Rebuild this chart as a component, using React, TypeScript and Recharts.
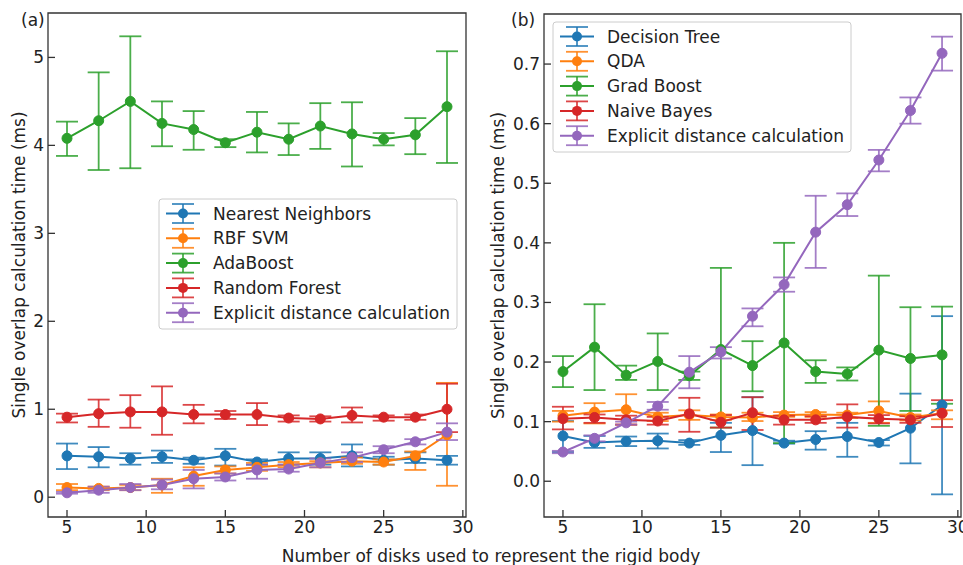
import { LineChart, Line, XAxis, YAxis, ErrorBar, ReferenceArea, Label } from 'recharts';

const FONT = '"DejaVu Sans", sans-serif';
const INK = '#222';
const AXIS = '#333';

const XS = [5, 7, 9, 11, 13, 15, 17, 19, 21, 23, 25, 27, 29];
const X_DOMAIN: [number, number] = [3.8, 30.2];
const X_TICKS = [5, 10, 15, 20, 25, 30];
const Y_TICKS_A = [0, 1, 2, 3, 4, 5];
const Y_TICKS_B = [0, 0.1, 0.2, 0.3, 0.4, 0.5, 0.6, 0.7];
const Y_LABEL = 'Single overlap calculation time (ms)';
const X_LABEL = 'Number of disks used to represent the rigid body';

// panel (a)
const NN_MEAN = [0.47, 0.46, 0.44, 0.46, 0.42, 0.47, 0.40, 0.44, 0.44, 0.47, 0.42, 0.44, 0.42];
const NN_LO = [0.32, 0.34, 0.37, 0.39, 0.38, 0.36, 0.37, 0.37, 0.37, 0.35, 0.37, 0.39, 0.37];
const NN_HI = [0.61, 0.57, 0.50, 0.53, 0.45, 0.55, 0.43, 0.51, 0.51, 0.60, 0.46, 0.51, 0.47];

const RBF_MEAN = [0.11, 0.10, 0.11, 0.14, 0.24, 0.31, 0.34, 0.37, 0.39, 0.41, 0.40, 0.47, 0.71];
const RBF_LO = [0.08, 0.08, 0.08, 0.05, 0.13, 0.27, 0.30, 0.34, 0.34, 0.38, 0.37, 0.31, 0.13];
const RBF_HI = [0.15, 0.12, 0.14, 0.21, 0.34, 0.35, 0.39, 0.40, 0.41, 0.45, 0.43, 0.52, 1.30];

const ADA_MEAN = [4.08, 4.28, 4.50, 4.25, 4.18, 4.03, 4.15, 4.07, 4.22, 4.13, 4.07, 4.12, 4.44];
const ADA_LO = [3.88, 3.72, 3.74, 3.99, 3.95, 3.98, 3.92, 3.89, 3.96, 3.76, 4.00, 3.90, 3.80];
const ADA_HI = [4.27, 4.83, 5.24, 4.50, 4.39, 4.07, 4.38, 4.25, 4.48, 4.49, 4.14, 4.31, 5.07];

const RF_MEAN = [0.91, 0.95, 0.97, 0.97, 0.94, 0.94, 0.94, 0.90, 0.89, 0.93, 0.91, 0.91, 1.00];
const RF_LO = [0.85, 0.80, 0.79, 0.71, 0.84, 0.89, 0.82, 0.86, 0.86, 0.85, 0.87, 0.88, 0.74];
const RF_HI = [0.95, 1.11, 1.16, 1.26, 1.05, 0.98, 1.07, 0.93, 0.92, 1.02, 0.93, 0.94, 1.29];

const EXA_MEAN = [0.05, 0.08, 0.11, 0.14, 0.21, 0.23, 0.31, 0.32, 0.39, 0.45, 0.54, 0.63, 0.74];
const EXA_LO = [0.04, 0.05, 0.08, 0.09, 0.10, 0.19, 0.21, 0.29, 0.34, 0.40, 0.50, 0.60, 0.65];
const EXA_HI = [0.06, 0.12, 0.15, 0.20, 0.31, 0.27, 0.37, 0.37, 0.44, 0.51, 0.58, 0.66, 0.84];

// panel (b)
const DT_MEAN = [0.076, 0.065, 0.067, 0.068, 0.064, 0.077, 0.085, 0.064, 0.070, 0.075, 0.065, 0.089, 0.128];
const DT_LO = [0.049, 0.056, 0.059, 0.055, 0.061, 0.049, 0.027, 0.063, 0.053, 0.041, 0.060, 0.030, -0.022];
const DT_HI = [0.101, 0.076, 0.075, 0.080, 0.069, 0.098, 0.141, 0.068, 0.084, 0.098, 0.069, 0.147, 0.277];

const QDA_MEAN = [0.110, 0.116, 0.120, 0.108, 0.111, 0.108, 0.107, 0.111, 0.112, 0.111, 0.118, 0.107, 0.114];
const QDA_LO = [0.100, 0.097, 0.095, 0.101, 0.103, 0.103, 0.101, 0.108, 0.108, 0.106, 0.098, 0.102, 0.104];
const QDA_HI = [0.118, 0.131, 0.146, 0.115, 0.119, 0.112, 0.115, 0.116, 0.116, 0.115, 0.134, 0.112, 0.119];

const GB_MEAN = [0.184, 0.225, 0.178, 0.201, 0.177, 0.221, 0.194, 0.232, 0.184, 0.180, 0.220, 0.206, 0.212];
const GB_LO = [0.158, 0.153, 0.170, 0.153, 0.170, 0.090, 0.151, 0.064, 0.165, 0.169, 0.093, 0.118, 0.130];
const GB_HI = [0.210, 0.297, 0.194, 0.248, 0.184, 0.358, 0.235, 0.400, 0.203, 0.191, 0.345, 0.292, 0.293];

const NB_MEAN = [0.105, 0.107, 0.103, 0.101, 0.113, 0.099, 0.115, 0.103, 0.103, 0.108, 0.105, 0.103, 0.114];
const NB_LO = [0.087, 0.098, 0.095, 0.095, 0.083, 0.090, 0.086, 0.095, 0.098, 0.090, 0.097, 0.098, 0.091];
const NB_HI = [0.125, 0.112, 0.110, 0.108, 0.140, 0.111, 0.141, 0.110, 0.109, 0.129, 0.111, 0.109, 0.136];

const EXB_MEAN = [0.049, 0.072, 0.098, 0.126, 0.183, 0.217, 0.277, 0.330, 0.418, 0.464, 0.539, 0.622, 0.718];
const EXB_LO = [0.047, 0.067, 0.095, 0.120, 0.156, 0.206, 0.260, 0.318, 0.358, 0.445, 0.520, 0.600, 0.689];
const EXB_HI = [0.051, 0.077, 0.100, 0.133, 0.210, 0.225, 0.290, 0.342, 0.479, 0.483, 0.556, 0.644, 0.746];

type Series = { name: string; color: string; mean: number[]; lo: number[]; hi: number[] };

const SERIES_A: Series[] = [
  { name: 'Nearest Neighbors', color: '#1f77b4', mean: NN_MEAN, lo: NN_LO, hi: NN_HI },
  { name: 'RBF SVM', color: '#ff7f0e', mean: RBF_MEAN, lo: RBF_LO, hi: RBF_HI },
  { name: 'AdaBoost', color: '#2ca02c', mean: ADA_MEAN, lo: ADA_LO, hi: ADA_HI },
  { name: 'Random Forest', color: '#d62728', mean: RF_MEAN, lo: RF_LO, hi: RF_HI },
  { name: 'Explicit distance calculation', color: '#9467bd', mean: EXA_MEAN, lo: EXA_LO, hi: EXA_HI },
];

const SERIES_B: Series[] = [
  { name: 'Decision Tree', color: '#1f77b4', mean: DT_MEAN, lo: DT_LO, hi: DT_HI },
  { name: 'QDA', color: '#ff7f0e', mean: QDA_MEAN, lo: QDA_LO, hi: QDA_HI },
  { name: 'Grad Boost', color: '#2ca02c', mean: GB_MEAN, lo: GB_LO, hi: GB_HI },
  { name: 'Naive Bayes', color: '#d62728', mean: NB_MEAN, lo: NB_LO, hi: NB_HI },
  { name: 'Explicit distance calculation', color: '#9467bd', mean: EXB_MEAN, lo: EXB_LO, hi: EXB_HI },
];

function buildRows(series: Series[]) {
  return XS.map((x, i) => {
    const row: Record<string, any> = { x };
    series.forEach((s, k) => {
      row[`m${k}`] = s.mean[i];
      row[`e${k}`] = [s.mean[i] - s.lo[i], s.hi[i] - s.mean[i]];
    });
    return row;
  });
}

// matplotlib-style ticks: short marks pointing into the plot
const XTick = (props: any) => {
  const { x, y, payload } = props;
  return (
    <g>
      <line x1={x} x2={x} y1={y} y2={y - 7} stroke={AXIS} strokeWidth={1.3} />
      <text x={x} y={y + 16} textAnchor="middle" fontSize={17} fill={INK} fontFamily={FONT}>
        {payload.value}
      </text>
    </g>
  );
};

const makeYTick = (digits: number) => (props: any) => {
  const { x, y, payload } = props;
  return (
    <g>
      <line x1={x} x2={x + 7} y1={y} y2={y} stroke={AXIS} strokeWidth={1.3} />
      <text x={x - 4} y={y + 6} textAnchor="end" fontSize={17} fill={INK} fontFamily={FONT}>
        {Number(payload.value).toFixed(digits)}
      </text>
    </g>
  );
};

const yLabel = (cx: number) => (props: any) => {
  const vb = props.viewBox;
  const cy = vb.y + vb.height / 2;
  return (
    <text x={cx} y={cy} transform={`rotate(-90 ${cx} ${cy})`} textAnchor="middle"
      dominantBaseline="central" fontSize={17} fill={INK} fontFamily={FONT}>
      {Y_LABEL}
    </text>
  );
};

interface PanelProps {
  series: Series[];
  yDomain: [number, number];
  yTicks: number[];
  digits: number;
  yAxisWidth: number;
  margin: { top: number; right: number; left: number; bottom: number };
  labelX: number;
}

function Panel({ series, yDomain, yTicks, digits, yAxisWidth, margin, labelX }: PanelProps) {
  const rows = buildRows(series);
  return (
    <LineChart width={480} height={565} data={rows} margin={margin} style={{ overflow: 'visible' }}>
      <XAxis dataKey="x" type="number" domain={X_DOMAIN} ticks={X_TICKS} allowDataOverflow
        height={30} axisLine={false} tickLine={false} tickSize={0} tickMargin={0} tick={XTick} interval={0} />
      <YAxis type="number" domain={yDomain} ticks={yTicks} allowDataOverflow width={yAxisWidth}
        axisLine={false} tickLine={false} tickSize={0} tickMargin={0} tick={makeYTick(digits)} interval={0}>
        <Label content={yLabel(labelX)} />
      </YAxis>
      <ReferenceArea x1={X_DOMAIN[0]} x2={X_DOMAIN[1]} y1={yDomain[0]} y2={yDomain[1]}
        fill="none" fillOpacity={0} stroke={AXIS} strokeWidth={1.3} strokeOpacity={1} ifOverflow="visible" />
      {series.map((s, k) => (
        <Line key={s.name} dataKey={`m${k}`} stroke={s.color} strokeWidth={2} type="linear"
          dot={{ r: 5, fill: s.color, stroke: s.color, strokeWidth: 1 }} activeDot={false}
          isAnimationActive={false}>
          <ErrorBar dataKey={`e${k}`} direction="y" width={11} stroke={s.color} strokeWidth={1.8}
            strokeOpacity={0.85} isAnimationActive={false} />
        </Line>
      ))}
    </LineChart>
  );
}

function LegendBox({ items, left, top }: { items: Series[]; left: number; top: number }) {
  const w = 298;
  const h = 130;
  return (
    <g>
      <rect x={left} y={top} width={w} height={h} rx={3} fill="#fff" fillOpacity={0.8} stroke="#ccc" strokeWidth={1} />
      {items.map((s, i) => {
        const cy = top + 14.5 + i * 24.8;
        const cx = left + 24;
        return (
          <g key={s.name}>
            <line x1={cx - 17} x2={cx + 17} y1={cy} y2={cy} stroke={s.color} strokeWidth={2} />
            <line x1={cx} x2={cx} y1={cy - 9.5} y2={cy + 9.5} stroke={s.color} strokeWidth={1.8} strokeOpacity={0.85} />
            <line x1={cx - 11} x2={cx + 11} y1={cy - 9.5} y2={cy - 9.5} stroke={s.color} strokeWidth={1.8} strokeOpacity={0.85} />
            <line x1={cx - 11} x2={cx + 11} y1={cy + 9.5} y2={cy + 9.5} stroke={s.color} strokeWidth={1.8} strokeOpacity={0.85} />
            <circle cx={cx} cy={cy} r={5} fill={s.color} />
            <text x={left + 54} y={cy + 6} fontSize={17} fill={INK} fontFamily={FONT}>{s.name}</text>
          </g>
        );
      })}
    </g>
  );
}

export default function App() {
  return (
    <div style={{ position: 'absolute', left: 0, top: 0, width: 963, height: 565, background: '#fff', overflow: 'hidden' }}>
      <div style={{ position: 'absolute', left: 0, top: 0 }}>
        <Panel series={SERIES_A} yDomain={[-0.225, 5.505]} yTicks={Y_TICKS_A} digits={0} yAxisWidth={48}
          margin={{ top: 13, right: 14, left: 0, bottom: 18 }} labelX={18.5} />
      </div>
      <div style={{ position: 'absolute', left: 483, top: 0 }}>
        <Panel series={SERIES_B} yDomain={[-0.06, 0.784]} yTicks={Y_TICKS_B} digits={1} yAxisWidth={61}
          margin={{ top: 14, right: 2, left: 0, bottom: 18 }} labelX={15} />
      </div>
      <svg width={963} height={565} style={{ position: 'absolute', left: 0, top: 0, pointerEvents: 'none' }}>
        <LegendBox items={SERIES_A} left={159} top={199} />
        <LegendBox items={SERIES_B} left={553} top={22} />
        <text x={21} y={26} fontSize={17} fill={INK} fontFamily={FONT}>(a)</text>
        <text x={511} y={26} fontSize={17} fill={INK} fontFamily={FONT}>(b)</text>
        <text x={491} y={562} textAnchor="middle" fontSize={17} fill={INK} fontFamily={FONT}>{X_LABEL}</text>
      </svg>
    </div>
  );
}
